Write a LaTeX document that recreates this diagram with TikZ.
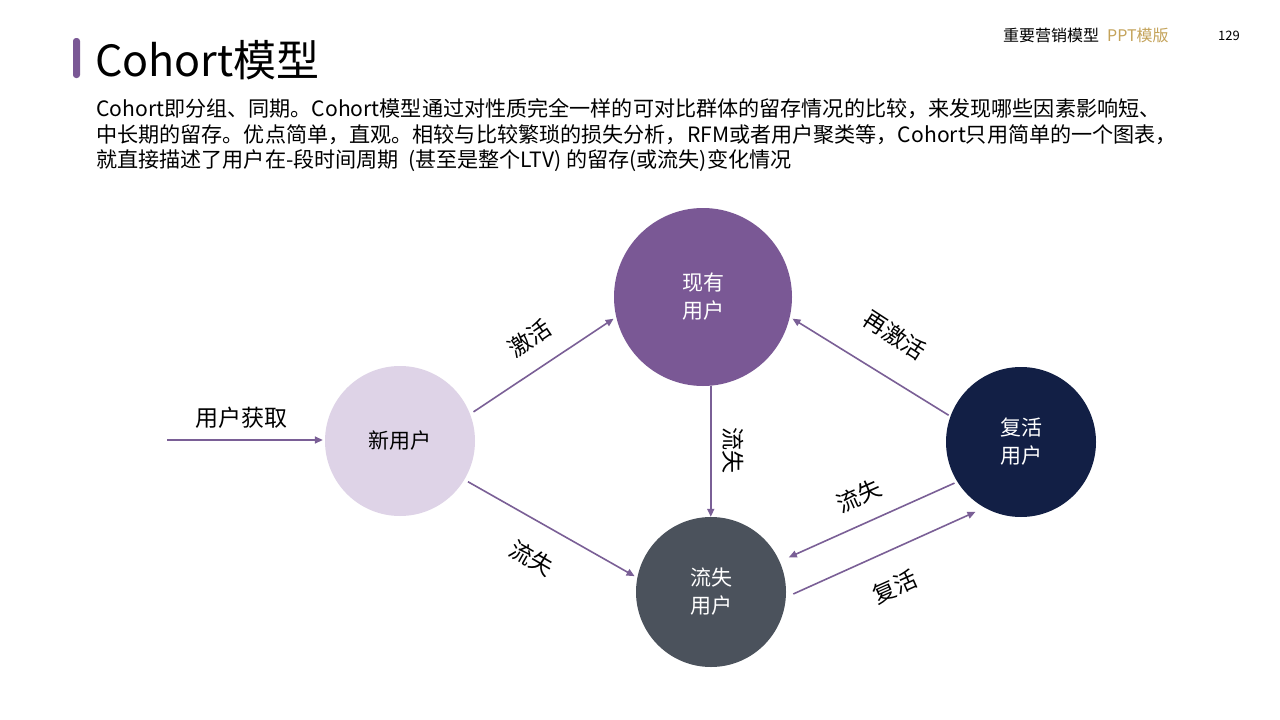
\documentclass[tikz,border=0pt]{standalone}
\usepackage{fontspec}
\setmainfont{Noto Sans CJK SC}
\usetikzlibrary{arrows.meta}
\definecolor{cpurple}{HTML}{7A5895}
\definecolor{clav}{HTML}{DED3E7}
\definecolor{cgray}{HTML}{4B525C}
\definecolor{cnavy}{HTML}{121F45}
\definecolor{cgold}{HTML}{C4A35A}
\definecolor{carrow}{HTML}{7A5F96}
\tikzset{
  bubble/.style={circle, inner sep=0pt, draw=none, align=center, font=\fontsize{21}{28}\selectfont},
  conn/.style={draw=carrow, line width=1.6pt, -{Triangle[length=8pt,width=7pt]}},
  lbl/.style={inner sep=0pt, font=\fontsize{23}{28}\selectfont},
  para/.style={anchor=base west, inner sep=0pt, font=\fontsize{21.1}{25}\selectfont},
}
\begin{document}
\begin{tikzpicture}[x=1pt,y=-1pt]
\path[use as bounding box, fill=white] (0,0) rectangle (1280,720);
% header
\fill[cpurple, rounded corners=3pt] (73,38) rectangle (80,78);
\node[anchor=base west, inner sep=0pt, font=\fontsize{43}{47}\selectfont] (title) at (95,76) {Cohort模型};
\node[anchor=base west, inner sep=0pt, font=\fontsize{16}{18}\selectfont] (hd1) at (1003,41) {重要营销模型};
\node[anchor=base west, inner sep=0pt, font=\fontsize{16}{18}\selectfont, text=cgold] (hd2) at (1107,41) {PPT模版};
\node[anchor=base west, inner sep=0pt, font=\fontsize{13}{15}\selectfont] (pg) at (1218,40) {129};
% paragraph
\node[para] (p1) at (96,116) {Cohort即分组、同期。Cohort模型通过对性质完全一样的可对比群体的留存情况的比较，来发现哪些因素影响短、};
\node[para] (p2) at (96,142) {中长期的留存。优点简单，直观。相较与比较繁琐的损失分析，RFM或者用户聚类等，Cohort只用简单的一个图表，};
\node[para] (p3) at (96,167) {就直接描述了用户在-段时间周期\ \ (甚至是整个LTV) 的留存(或流失)变化情况};
% circles
\node[bubble, minimum size=178pt, fill=cpurple, text=white] (xy) at (703,297) {现有\\用户};
\node[bubble, minimum size=150pt, fill=clav, text=black] (xin) at (400,441) {新用户};
\node[bubble, minimum size=150pt, fill=cgray, text=white] (ls) at (711,592) {流失\\用户};
\node[bubble, minimum size=150pt, fill=cnavy, text=white] (fh) at (1021,442) {复活\\用户};
% connectors
\coordinate (src) at (167,440);
\draw[conn, shorten >=2pt] (src) -- (src -| xin.west);
\draw[conn, shorten <=4pt, shorten >=3pt] (xin.21) -- (xy.193);
\draw[conn, shorten <=4pt, shorten >=3pt] (xin.-31) -- (ls.169);
\draw[conn] (xy.-85.5) -- (xy.-85.5 |- ls.north);
\draw[conn, shorten <=2pt, shorten >=3pt] (fh.160.7) -- (xy.-13);
\draw[conn, shorten <=3pt, shorten >=10pt] (fh.212) -- (ls.24);
\draw[conn, shorten <=8pt, shorten >=10pt] (ls.-4) -- (fh.241.3);
% labels
\node[lbl] (l0) at (241,418) {用户获取};
\node[lbl, rotate=34] (l1) at (530,338) {激活};
\node[lbl, rotate=-30] (l2) at (532,558) {流失};
\node[lbl, rotate=-90] (l3) at (733,450) {流失};
\node[lbl, rotate=-33] (l4) at (895,335) {再激活};
\node[lbl, rotate=24] (l5) at (859,496) {流失};
\node[lbl, rotate=24] (l6) at (895,587) {复活};
\end{tikzpicture}
\end{document}
